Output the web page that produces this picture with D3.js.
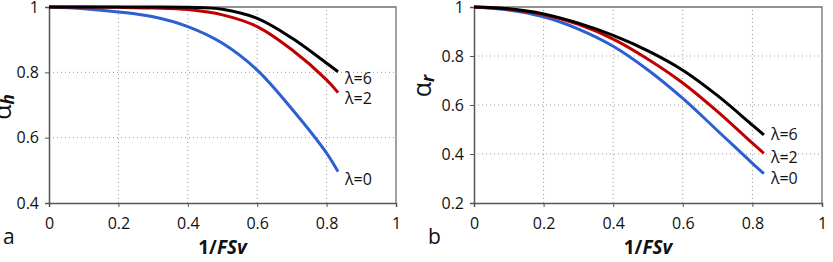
<!DOCTYPE html>
<html>
<head>
<meta charset="utf-8">
<script src="https://cdn.jsdelivr.net/npm/d3@7"></script>
<style>
  body { margin: 0; background: #fff; }
  svg text { font-family: "Open Sans", "DejaVu Sans", sans-serif; fill: #111; }
</style>
</head>
<body>
<div id="chart-area"></div>
<script>
// inverse safety factor (x values shared by every curve)
let invFS = [0, 0.1, 0.2, 0.3, 0.4, 0.5, 0.6, 0.7, 0.8, 0.833];

// panel a : alpha_h
let ahLam0 = [1, 0.995, 0.985, 0.97, 0.94, 0.889, 0.807, 0.688, 0.553, 0.496];
let ahLam2 = [1, 1, 0.999, 0.997, 0.992, 0.976, 0.94, 0.869, 0.777, 0.738];
let ahLam6 = [1, 1, 1, 1, 0.999, 0.993, 0.965, 0.905, 0.828, 0.802];

// panel b : alpha_r
let arLam0 = [1, 0.988, 0.96, 0.91, 0.84, 0.743, 0.627, 0.495, 0.362, 0.32];
let arLam2 = [1, 0.991, 0.969, 0.929, 0.869, 0.787, 0.69, 0.573, 0.444, 0.403];
let arLam6 = [1, 0.993, 0.972, 0.934, 0.884, 0.821, 0.742, 0.638, 0.518, 0.478];

let seriesNames = ["λ=0", "λ=2", "λ=6"];
let xTicks = [0, 0.2, 0.4, 0.6, 0.8, 1];
let ahTicks = [0.4, 0.6, 0.8, 1];
let arTicks = [0.2, 0.4, 0.6, 0.8, 1];

let colors = ["#2c5fd2", "#c00000", "#000000"];

let svg = d3.select("#chart-area")
    .append("svg")
    .attr("width", 833)
    .attr("height", 262);

function drawPanel(opt) {
    let x = d3.scaleLinear().domain([0, 1]).range([opt.left, opt.right]);
    let y = d3.scaleLinear().domain([opt.ticks[0], 1]).range([203, 7]);

    let g = svg.append("g");

    // grid
    g.selectAll(".vgrid")
        .data(xTicks.slice(1, -1))
        .enter().append("line")
        .attr("x1", d => x(d)).attr("x2", d => x(d))
        .attr("y1", y.range()[0]).attr("y2", y.range()[1])
        .attr("stroke", "#999").attr("stroke-width", 1)
        .attr("stroke-dasharray", "1,3");
    g.selectAll(".hgrid")
        .data(opt.ticks.slice(1, -1))
        .enter().append("line")
        .attr("x1", x(0)).attr("x2", x(1))
        .attr("y1", d => y(d)).attr("y2", d => y(d))
        .attr("stroke", "#999").attr("stroke-width", 1)
        .attr("stroke-dasharray", "1,3");

    // frame top / right
    g.append("path")
        .attr("d", `M${x(0)},${y(1)}H${x(1)}V${y(opt.ticks[0])}`)
        .attr("fill", "none").attr("stroke", "#707070").attr("stroke-width", 1.3);

    // axes
    let xAxis = d3.axisBottom(x).tickValues(xTicks).tickSize(4)
        .tickFormat(d3.format("~g"));
    let xg = g.append("g")
        .attr("transform", "translate(0," + y(opt.ticks[0]) + ")")
        .call(xAxis);
    xg.selectAll("text").attr("dy", 0).attr("y", 26)
        .attr("font-size", "16px").attr("font-family", "Open Sans");

    let yAxis = d3.axisLeft(y).tickValues(opt.ticks).tickSize(4)
        .tickFormat(d3.format("~g"));
    let yg = g.append("g")
        .attr("transform", "translate(" + x(0) + ",0)")
        .call(yAxis);
    yg.selectAll("text").attr("x", -10)
        .attr("font-size", "16px").attr("font-family", "Open Sans");

    [xg, yg].forEach(a => {
        a.select(".domain").attr("stroke", "#555").attr("stroke-width", 1.5);
        a.selectAll(".tick line").attr("stroke", "#555");
        a.selectAll("text").attr("fill", "#111");
    });

    // curves
    let line = d3.line()
        .x((d, i) => x(invFS[i]))
        .y(d => y(d))
        .curve(d3.curveCatmullRom.alpha(0.5));

    opt.series.forEach((s, k) => {
        g.append("path")
            .datum(s)
            .attr("d", line)
            .attr("fill", "none")
            .attr("stroke", colors[k])
            .attr("stroke-width", 3);

        g.append("text")
            .attr("x", x(invFS[invFS.length - 1]) + 7)
            .attr("y", y(s[s.length - 1]) + opt.labelDy[k])
            .attr("dy", "0.35em")
            .attr("font-size", "16px")
            .text(seriesNames[k]);
    });

    // x title
    let xt = g.append("text")
        .attr("x", (x(0) + x(1)) / 2)
        .attr("y", 254)
        .attr("text-anchor", "middle")
        .attr("font-size", "19px")
        .attr("font-weight", "bold");
    xt.append("tspan").text("1/");
    xt.append("tspan").attr("font-style", "italic").text("FSv");

    // y title
    let yt = g.append("text")
        .attr("transform", "translate(" + opt.yTitleX + "," + opt.yTitleY + ") rotate(-90)")
        .attr("text-anchor", "middle")
        .attr("font-size", "25px");
    yt.append("tspan").text("α");
    yt.append("tspan").attr("font-size", "17px").attr("font-weight", "bold")
        .attr("font-style", "italic").attr("dy", 3).text(opt.sub);

    // panel letter
    g.append("text")
        .attr("x", opt.letterX)
        .attr("y", 244)
        .attr("font-size", "21px")
        .text(opt.letter);
}

drawPanel({
    left: 49, right: 396,
    ticks: ahTicks,
    series: [ahLam0, ahLam2, ahLam6],
    labelDy: [8, 6, 7],
    sub: "h", yTitleX: 11, yTitleY: 107,
    letter: "a", letterX: 3
});

drawPanel({
    left: 474, right: 822,
    ticks: arTicks,
    series: [arLam0, arLam2, arLam6],
    labelDy: [5, 4, 0],
    sub: "r", yTitleX: 431, yTitleY: 86,
    letter: "b", letterX: 428
});
</script>
</body>
</html>
